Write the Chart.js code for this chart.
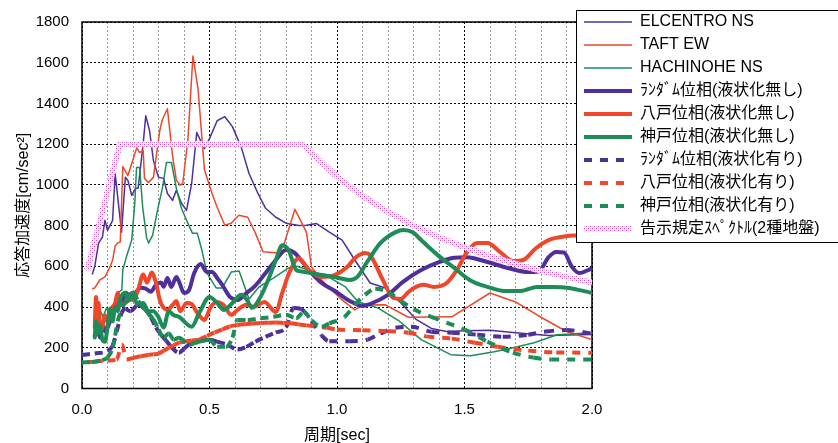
<!DOCTYPE html>
<html lang="ja">
<head>
<meta charset="utf-8">
<title>応答加速度スペクトル</title>
<script src="https://cdn.jsdelivr.net/npm/chart.js@4.4.1/dist/chart.umd.min.js"></script>
<style>
  html, body { margin: 0; padding: 0; background: #fff; }
  #wrap { position: relative; width: 838px; height: 443px; }
</style>
</head>
<body>
<div id="wrap"><canvas id="spectrum"></canvas></div>
<script>
// period [sec] / response acceleration [cm/sec^2]
const elcentroT = [0.04, 0.05, 0.065, 0.08, 0.09, 0.10, 0.12, 0.13, 0.155, 0.17, 0.18, 0.195, 0.21, 0.22, 0.24, 0.25, 0.265, 0.28, 0.30, 0.32, 0.335, 0.355, 0.37, 0.39, 0.41, 0.43, 0.45, 0.48, 0.50, 0.53, 0.56, 0.59, 0.625, 0.655, 0.69, 0.72, 0.76, 0.80, 0.85, 0.88, 0.92, 0.97, 1.02, 1.07, 1.13, 1.19, 1.25, 1.31, 1.37, 1.43, 1.50, 1.60, 1.70, 1.83, 1.95, 2.0];
const elcentroA = [560, 600, 714, 743, 826, 777, 826, 1056, 768, 1037, 1022, 949, 983, 983, 1203, 1340, 1266, 1120, 1037, 1032, 958, 924, 973, 910, 875, 1007, 1257, 1178, 1227, 1315, 1335, 1286, 1183, 1056, 958, 885, 841, 812, 800, 802, 810, 768, 729, 631, 518, 494, 421, 340, 295, 280, 284, 286, 274, 260, 264, 265];

const taftT = [0.04, 0.05, 0.07, 0.09, 0.11, 0.12, 0.13, 0.14, 0.15, 0.16, 0.18, 0.195, 0.215, 0.225, 0.24, 0.245, 0.26, 0.28, 0.305, 0.315, 0.335, 0.355, 0.37, 0.385, 0.395, 0.415, 0.435, 0.455, 0.48, 0.51, 0.53, 0.56, 0.585, 0.615, 0.65, 0.68, 0.71, 0.77, 0.79, 0.835, 0.88, 0.90, 0.94, 0.98, 1.02, 1.07, 1.10, 1.19, 1.28, 1.45, 1.60, 1.70, 1.80, 1.90, 2.0];
const taftA = [490, 494, 533, 548, 597, 631, 700, 714, 720, 1090, 1046, 1105, 1183, 1159, 1169, 1032, 1012, 1037, 1267, 1320, 1374, 1144, 1022, 998, 1007, 1218, 1633, 1472, 1076, 958, 890, 802, 812, 851, 841, 763, 672, 665, 700, 880, 768, 597, 533, 484, 435, 386, 410, 411, 350, 352, 469, 425, 350, 280, 240];

const hachinoheT = [0.05, 0.06, 0.07, 0.082, 0.097, 0.117, 0.129, 0.14, 0.156, 0.16, 0.175, 0.195, 0.207, 0.214, 0.226, 0.238, 0.253, 0.261, 0.277, 0.296, 0.316, 0.331, 0.351, 0.37, 0.39, 0.41, 0.433, 0.452, 0.47, 0.49, 0.526, 0.55, 0.585, 0.616, 0.655, 0.694, 0.752, 0.81, 0.842, 0.889, 0.966, 1.033, 1.083, 1.16, 1.24, 1.33, 1.446, 1.524, 1.617, 1.707, 1.773, 1.863, 2.0];
const hachinoheA = [330, 380, 386, 352, 396, 337, 411, 469, 484, 582, 650, 729, 909, 1086, 1086, 890, 743, 714, 753, 875, 988, 1110, 1110, 983, 885, 826, 763, 763, 680, 567, 494, 494, 572, 577, 440, 499, 543, 592, 600, 582, 548, 499, 425, 396, 335, 240, 166, 161, 181, 205, 225, 264, 274];

const randomT = [0.05, 0.06, 0.07, 0.08, 0.09, 0.10, 0.11, 0.12, 0.13, 0.14, 0.155, 0.17, 0.19, 0.21, 0.23, 0.25, 0.27, 0.29, 0.31, 0.32, 0.335, 0.35, 0.37, 0.382, 0.40, 0.42, 0.44, 0.465, 0.49, 0.51, 0.53, 0.55, 0.58, 0.61, 0.645, 0.675, 0.72, 0.76, 0.80, 0.83, 0.89, 0.94, 0.99, 1.05, 1.10, 1.13, 1.20, 1.26, 1.33, 1.40, 1.46, 1.51, 1.59, 1.67, 1.75, 1.79, 1.83, 1.86, 1.89, 1.92, 1.95, 2.0];
const randomA = [260, 300, 250, 320, 280, 300, 330, 360, 400, 440, 430, 470, 455, 470, 495, 490, 475, 510, 520, 500, 543, 499, 548, 520, 469, 484, 567, 612, 572, 572, 543, 509, 450, 435, 469, 499, 567, 631, 680, 670, 582, 518, 480, 430, 405, 415, 460, 525, 582, 621, 642, 645, 621, 592, 572, 575, 645, 670, 668, 600, 567, 590];

const hachiPhaseT = [0.05, 0.055, 0.06, 0.065, 0.07, 0.08, 0.09, 0.10, 0.11, 0.12, 0.13, 0.14, 0.15, 0.17, 0.19, 0.20, 0.22, 0.24, 0.255, 0.273, 0.29, 0.305, 0.32, 0.335, 0.355, 0.37, 0.385, 0.41, 0.43, 0.45, 0.48, 0.505, 0.53, 0.555, 0.585, 0.61, 0.645, 0.675, 0.715, 0.76, 0.785, 0.81, 0.85, 0.89, 0.94, 0.99, 1.04, 1.07, 1.11, 1.13, 1.18, 1.22, 1.25, 1.28, 1.31, 1.34, 1.38, 1.43, 1.47, 1.51, 1.55, 1.59, 1.64, 1.69, 1.73, 1.78, 1.83, 1.90, 2.0];
const hachiPhaseA = [300, 450, 320, 420, 280, 300, 360, 330, 390, 400, 420, 470, 410, 420, 440, 435, 484, 560, 520, 570, 520, 435, 396, 386, 410, 430, 380, 420, 415, 376, 337, 401, 425, 410, 362, 386, 411, 401, 425, 376, 469, 560, 640, 582, 548, 557, 597, 640, 665, 655, 533, 445, 440, 474, 499, 509, 499, 518, 582, 670, 714, 714, 670, 626, 631, 689, 729, 748, 753];

const kobePhaseT = [0.05, 0.055, 0.06, 0.07, 0.08, 0.09, 0.10, 0.11, 0.12, 0.13, 0.14, 0.15, 0.17, 0.18, 0.20, 0.22, 0.24, 0.26, 0.28, 0.30, 0.32, 0.34, 0.36, 0.38, 0.43, 0.46, 0.50, 0.53, 0.557, 0.59, 0.625, 0.647, 0.667, 0.70, 0.73, 0.76, 0.785, 0.81, 0.84, 0.86, 0.94, 0.99, 1.05, 1.08, 1.12, 1.17, 1.23, 1.26, 1.30, 1.33, 1.395, 1.46, 1.52, 1.59, 1.656, 1.72, 1.785, 1.85, 1.91, 2.0];
const kobePhaseA = [250, 330, 270, 310, 240, 230, 300, 390, 330, 400, 380, 440, 470, 430, 450, 410, 420, 380, 380, 350, 300, 380, 360, 352, 303, 372, 450, 420, 386, 420, 460, 435, 396, 450, 533, 631, 704, 680, 582, 575, 557, 548, 533, 548, 625, 714, 768, 778, 765, 729, 655, 592, 533, 499, 479, 479, 499, 499, 494, 469];

const randomLiqT = [0, 0.05, 0.10, 0.12, 0.136, 0.156, 0.17, 0.19, 0.22, 0.25, 0.27, 0.29, 0.31, 0.33, 0.35, 0.38, 0.40, 0.43, 0.46, 0.50, 0.53, 0.57, 0.61, 0.645, 0.68, 0.72, 0.76, 0.80, 0.83, 0.86, 0.90, 0.94, 0.97, 1.05, 1.12, 1.17, 1.23, 1.29, 1.37, 1.45, 1.55, 1.65, 1.75, 1.82, 1.90, 2.0];
const randomLiqA = [165, 172, 185, 210, 279, 372, 390, 380, 410, 385, 350, 300, 265, 235, 205, 175, 195, 225, 232, 240, 230, 215, 191, 205, 230, 254, 275, 300, 395, 390, 330, 260, 232, 232, 240, 270, 298, 303, 279, 274, 264, 254, 264, 280, 287, 270];

const hachiLiqT = [0.02, 0.05, 0.10, 0.136, 0.156, 0.175, 0.20, 0.23, 0.26, 0.28, 0.30, 0.32, 0.34, 0.36, 0.38, 0.40, 0.43, 0.46, 0.49, 0.52, 0.55, 0.58, 0.61, 0.64, 0.67, 0.70, 0.73, 0.76, 0.79, 0.82, 0.85, 0.88, 0.96, 1.0, 1.1, 1.2, 1.28, 1.35, 1.45, 1.54, 1.63, 1.75, 1.86, 2.0];
const hachiLiqA = [130, 132, 138, 142, 215, 142, 150, 158, 165, 168, 171, 185, 200, 212, 225, 230, 236, 240, 258, 275, 290, 305, 312, 316, 319, 322, 323, 324, 322, 320, 315, 310, 298, 290, 286, 282, 274, 256, 245, 225, 205, 186, 177, 176];

const kobeLiqT = [0, 0.04, 0.08, 0.10, 0.12, 0.13, 0.14, 0.16, 0.18, 0.20, 0.22, 0.24, 0.26, 0.28, 0.30, 0.32, 0.34, 0.36, 0.38, 0.42, 0.44, 0.46, 0.48, 0.50, 0.53, 0.565, 0.59, 0.61, 0.65, 0.70, 0.75, 0.80, 0.84, 0.87, 0.90, 0.94, 0.97, 1.03, 1.07, 1.11, 1.15, 1.20, 1.25, 1.30, 1.37, 1.43, 1.50, 1.59, 1.69, 1.77, 1.84, 2.0];
const kobeLiqA = [128, 130, 140, 152, 200, 260, 330, 400, 450, 470, 430, 400, 370, 340, 290, 250, 270, 240, 249, 215, 222, 230, 236, 240, 205, 205, 250, 337, 337, 345, 352, 362, 345, 376, 335, 303, 320, 352, 411, 460, 490, 474, 430, 390, 352, 323, 289, 230, 176, 152, 142, 142];

const codeT = [0.02, 0.148, 0.865, 1.0, 1.1, 1.2, 1.3, 1.4, 1.5, 1.6, 1.7, 1.8, 1.9, 2.0];
const codeA = [580, 1200, 1200, 1040, 945, 868, 800, 743, 694, 650, 612, 578, 548, 520];

const yTicks = [0, 200, 400, 600, 800, 1000, 1200, 1400, 1600, 1800];

const PURPLE = '#4e2f9c';
const RED = '#f0472a';
const GREEN = '#1d8c58';

const toPoints = (periods, values) => periods.map((t, i) => ({ x: t, y: values[i] }));
const isHalf = v => Math.abs(v * 2 - Math.round(v * 2)) < 1e-6;

// pink hatched brush for the code spectrum
const hatchCanvas = document.createElement('canvas');
hatchCanvas.width = 4;
hatchCanvas.height = 4;
const hatchCtx = hatchCanvas.getContext('2d');
hatchCtx.fillStyle = '#fdf0fa';
hatchCtx.fillRect(0, 0, 4, 4);
hatchCtx.fillStyle = '#cf4fb7';
hatchCtx.fillRect(0, 0, 1, 1);
hatchCtx.fillRect(2, 2, 1, 1);
hatchCtx.fillStyle = '#eeb0e2';
hatchCtx.fillRect(2, 0, 1, 1);
hatchCtx.fillRect(0, 2, 1, 1);
const hatch = hatchCtx.createPattern(hatchCanvas, 'repeat');

// Excel restarts the dash at every vertex, so dense parts look solid
const restartDash = { borderDashOffset: ctx => (ctx.p0DataIndex % 2) * 0.001 };

const thin = (label, periods, values, color) => ({
  label, data: toPoints(periods, values),
  borderColor: color, backgroundColor: color,
  borderWidth: 1.5, tension: 0, borderJoinStyle: 'round'
});
const thick = (label, periods, values, color) => ({
  label, data: toPoints(periods, values),
  borderColor: color, backgroundColor: color,
  borderWidth: 4, cubicInterpolationMode: 'monotone',
  borderJoinStyle: 'round', borderCapStyle: 'round'
});
const dashed = (label, periods, values, color) => ({
  label, data: toPoints(periods, values),
  borderColor: color, backgroundColor: color,
  borderWidth: 4, cubicInterpolationMode: 'monotone',
  borderDash: [8, 8], borderCapStyle: 'butt',
  segment: restartDash
});

const datasets = [
  thin('ELCENTRO NS', elcentroT, elcentroA, PURPLE),
  thin('TAFT EW', taftT, taftA, RED),
  thin('HACHINOHE NS', hachinoheT, hachinoheA, GREEN),
  thick('ﾗﾝﾀﾞﾑ位相(液状化無し)', randomT, randomA, PURPLE),
  thick('八戸位相(液状化無し)', hachiPhaseT, hachiPhaseA, RED),
  thick('神戸位相(液状化無し)', kobePhaseT, kobePhaseA, GREEN),
  dashed('ﾗﾝﾀﾞﾑ位相(液状化有り)', randomLiqT, randomLiqA, PURPLE),
  dashed('八戸位相(液状化有り)', hachiLiqT, hachiLiqA, RED),
  dashed('神戸位相(液状化有り)', kobeLiqT, kobeLiqA, GREEN),
  {
    label: '告示規定ｽﾍﾟｸﾄﾙ(2種地盤)', data: toPoints(codeT, codeA),
    borderColor: hatch, backgroundColor: hatch,
    borderWidth: 6, tension: 0, borderJoinStyle: 'miter'
  }
];
// later series are painted on top, as in the original
datasets.forEach((ds, i) => { ds.order = datasets.length - i; ds.pointRadius = 0; ds.fill = false; });

// line samples in the legend take width, dash and colour from the series line
const legendLabels = chart => Chart.defaults.plugins.legend.labels.generateLabels(chart)
  .map(item => {
    const ds = chart.data.datasets[item.datasetIndex];
    item.lineDash = ds.borderDash || [];
    item.lineWidth = ds.borderWidth;
    item.strokeStyle = ds.borderColor;
    item.lineCap = 'butt';
    return item;
  });

const frameAndLegendBox = {
  id: 'frameAndLegendBox',
  afterLayout(chart) {
    // the legend box sits over the top-right corner of the plot
    chart.legend.left -= 15;
    chart.legend.top = 7;
  },
  beforeDatasetsDraw(chart) {
    const { ctx, chartArea: a } = chart;
    ctx.save();
    ctx.strokeStyle = '#000';
    ctx.lineWidth = 1.5;
    ctx.strokeRect(a.left, a.top, a.right - a.left, a.bottom - a.top);
    ctx.restore();
  },
  afterDatasetsDraw(chart) {
    const { ctx, legend } = chart;
    ctx.save();
    ctx.fillStyle = '#fff';
    ctx.strokeStyle = '#000';
    ctx.lineWidth = 1;
    ctx.fillRect(legend.left - 0.5, 10.5, 280, 232);
    ctx.strokeRect(legend.left - 0.5, 10.5, 280, 232);
    ctx.restore();
    // legend boxes are drawn below the datasets, so paint it again on top
    legend.draw();
  }
};

Chart.defaults.font.family = "'Liberation Sans', 'Noto Sans CJK JP', sans-serif";
Chart.defaults.color = '#000';

new Chart(document.getElementById('spectrum'), {
  type: 'line',
  data: { datasets },
  plugins: [frameAndLegendBox],
  options: {
    animation: false,
    events: [],
    responsive: true,
    maintainAspectRatio: false,
    layout: { padding: { top: 21, left: 0, right: 0, bottom: 0 } },
    plugins: {
      tooltip: { enabled: false },
      legend: {
        position: 'right',
        align: 'start',
        maxWidth: 246,
        labels: {
          color: '#000',
          font: { size: 16 },
          padding: 7,
          usePointStyle: true,
          pointStyle: 'line',
          pointStyleWidth: 48,
          boxHeight: 16,
          generateLabels: legendLabels,
          sort: (a, b) => a.datasetIndex - b.datasetIndex
        }
      }
    },
    scales: {
      x: {
        type: 'linear',
        min: 0,
        max: 2,
        afterFit: scale => { scale.height = 54.5; },
        grid: {
          color: ctx => (ctx.tick && isHalf(ctx.tick.value)) ? '#000' : '#9a9a9a',
          lineWidth: 1,
          drawTicks: false
        },
        border: { display: false, dash: [2, 2] },
        ticks: {
          stepSize: 0.1,
          autoSkip: false,
          maxRotation: 0,
          padding: 12,
          font: { size: 15 },
          callback: v => isHalf(v) ? v.toFixed(1) : ''
        },
        title: {
          display: true,
          text: '周期[sec]',
          font: { size: 16, lineHeight: 1 },
          padding: { top: 0, bottom: -1 }
        }
      },
      y: {
        min: 0,
        max: 1800,
        afterFit: scale => { scale.width = 82; },
        afterBuildTicks: scale => { scale.ticks = yTicks.map(v => ({ value: v })); },
        grid: { color: '#000', lineWidth: 1, drawTicks: false },
        border: { display: false, dash: [2, 2] },
        ticks: {
          padding: 13,
          font: { size: 15 },
          callback: v => String(v)
        },
        title: {
          display: true,
          text: '応答加速度[cm/sec²]',
          font: { size: 16 },
          padding: { top: 14, bottom: 0 }
        }
      }
    }
  }
});
</script>
</body>
</html>
